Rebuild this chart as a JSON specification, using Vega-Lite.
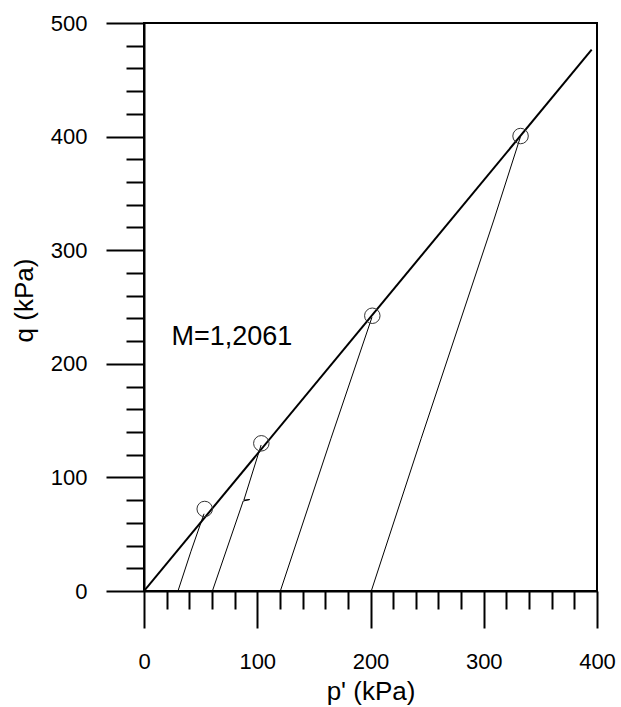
{
  "$schema": "https://vega.github.io/schema/vega-lite/v6.json",
  "autosize": "none",
  "width": 453,
  "height": 568,
  "padding": {"left": 144, "top": 23, "right": 24, "bottom": 116},
  "background": "white",
  "config": {
    "view": {"stroke": "black", "strokeWidth": 2},
    "font": "Liberation Sans"
  },
  "datasets": {
    "failure": [
      {"p": 0, "q": 0},
      {"p": 395.3, "q": 476.5}
    ],
    "paths": [
      {"test": 1, "i": 1, "p": 30.0, "q": 0},
      {"test": 1, "i": 2, "p": 41.5, "q": 35},
      {"test": 1, "i": 3, "p": 53.0, "q": 68},
      {"test": 2, "i": 1, "p": 60.4, "q": 0},
      {"test": 2, "i": 2, "p": 87.6, "q": 79.2},
      {"test": 2, "i": 3, "p": 93.3, "q": 80.5},
      {"test": 2, "i": 4, "p": 88.2, "q": 80.0},
      {"test": 2, "i": 5, "p": 103.4, "q": 128.5},
      {"test": 3, "i": 1, "p": 120.4, "q": 0},
      {"test": 3, "i": 2, "p": 165.0, "q": 134},
      {"test": 3, "i": 3, "p": 201.3, "q": 241},
      {"test": 4, "i": 1, "p": 200.7, "q": 0},
      {"test": 4, "i": 2, "p": 244.8, "q": 134.4},
      {"test": 4, "i": 3, "p": 308.9, "q": 326.6},
      {"test": 4, "i": 4, "p": 332.3, "q": 399.5}
    ],
    "peaks": [
      {"p": 53.6, "q": 72.2},
      {"p": 103.6, "q": 130.0},
      {"p": 201.6, "q": 242.3},
      {"p": 332.5, "q": 400.5}
    ],
    "note": [
      {"p": 24.2, "q": 216.5, "label": "M=1,2061"}
    ]
  },
  "layer": [
    {
      "data": {"name": "failure"},
      "mark": {"type": "line", "color": "black", "strokeWidth": 2, "clip": true},
      "encoding": {
        "x": {
          "field": "p", "type": "quantitative",
          "scale": {"domain": [0, 400], "nice": false},
          "axis": {
            "values": [0,20,40,60,80,100,120,140,160,180,200,220,240,260,280,300,320,340,360,380,400],
            "tickCount": 100,
            "grid": false,
            "domainColor": "black", "domainWidth": 2,
            "tickColor": "black", "tickWidth": 2,
            "tickSize": {"condition": {"test": "datum.value % 100 === 0", "value": 37}, "value": 18},
            "labelExpr": "datum.value % 100 === 0 ? datum.label : ''",
            "labelFont": "Liberation Sans", "labelFontSize": 22, "labelColor": "black",
            "labelPadding": 23, "labelBaseline": "top", "labelFlush": false, "labelOverlap": false,
            "title": "p' (kPa)",
            "titleFont": "Liberation Sans", "titleFontSize": 26, "titleFontWeight": "normal", "titleColor": "black",
            "titleBaseline": "alphabetic", "titleY": 108
          }
        },
        "y": {
          "field": "q", "type": "quantitative",
          "scale": {"domain": [0, 500], "nice": false},
          "axis": {
            "values": [0,20,40,60,80,100,120,140,160,180,200,220,240,260,280,300,320,340,360,380,400,420,440,460,480,500],
            "tickCount": 100,
            "grid": false,
            "domainColor": "black", "domainWidth": 2,
            "tickColor": "black", "tickWidth": 2,
            "tickSize": {"condition": {"test": "datum.value % 100 === 0", "value": 38}, "value": 18},
            "labelExpr": "datum.value % 100 === 0 ? datum.label : ''",
            "labelFont": "Liberation Sans", "labelFontSize": 22, "labelColor": "black",
            "labelPadding": 19, "labelBaseline": "middle", "labelFlush": false, "labelOverlap": false,
            "title": "q (kPa)",
            "titleFont": "Liberation Sans", "titleFontSize": 26, "titleFontWeight": "normal", "titleColor": "black",
            "titleAngle": -90, "titleBaseline": "alphabetic", "titleAlign": "center",
            "titleX": -112, "titleY": 277
          }
        },
        "order": {"field": "p", "type": "quantitative"}
      }
    },
    {
      "data": {"name": "paths"},
      "mark": {"type": "line", "color": "black", "strokeWidth": 1},
      "encoding": {
        "x": {"field": "p", "type": "quantitative"},
        "y": {"field": "q", "type": "quantitative"},
        "detail": {"field": "test", "type": "nominal"},
        "order": {"field": "i", "type": "quantitative"}
      }
    },
    {
      "data": {"name": "peaks"},
      "mark": {"type": "point", "shape": "circle", "filled": false, "size": 240, "stroke": "#333333", "strokeWidth": 1, "opacity": 1},
      "encoding": {
        "x": {"field": "p", "type": "quantitative"},
        "y": {"field": "q", "type": "quantitative"}
      }
    },
    {
      "data": {"name": "note"},
      "mark": {"type": "text", "align": "left", "baseline": "alphabetic", "font": "Liberation Sans", "fontSize": 27, "color": "black"},
      "encoding": {
        "x": {"field": "p", "type": "quantitative"},
        "y": {"field": "q", "type": "quantitative"},
        "text": {"field": "label"}
      }
    }
  ]
}
